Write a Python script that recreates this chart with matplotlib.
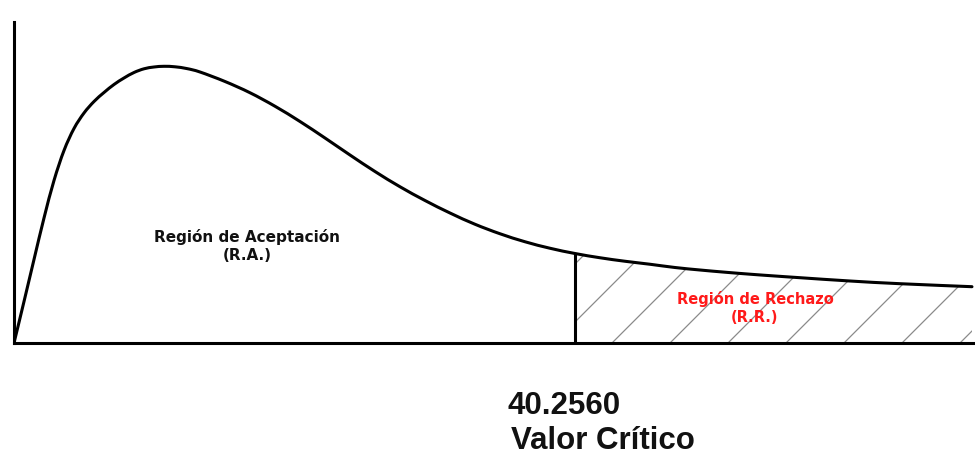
import numpy as np
import matplotlib
matplotlib.use("Agg")
import matplotlib.pyplot as plt
from matplotlib.collections import LineCollection
from matplotlib.path import Path
from matplotlib.patches import PathPatch

# ---- data ----
x_vals = [0.000, 0.718, 1.435, 2.153, 2.870, 3.588, 4.305, 5.023, 5.741, 6.458,
          7.176, 7.893, 8.611, 9.328, 10.046, 10.764, 11.553, 12.414, 13.347,
          15.141, 16.935, 18.729, 20.523, 22.316, 24.110, 25.904, 27.698, 29.492,
          31.286, 33.080, 34.874, 36.668, 38.462, 40.256, 42.050, 43.843, 45.637,
          47.431, 49.225, 51.019, 52.813, 54.607, 56.401, 59.989, 63.577, 68.743]
y_vals = [0.0000, 0.0083, 0.0167, 0.0250, 0.0325, 0.0385, 0.0429, 0.0460, 0.0483,
          0.0501, 0.0517, 0.0530, 0.0541, 0.05484, 0.05520, 0.05534, 0.05524,
          0.05488, 0.0542, 0.0523, 0.05005, 0.04735, 0.0443, 0.0410, 0.0376,
          0.0343, 0.03125, 0.0285, 0.0260, 0.02375, 0.02185, 0.02025, 0.01895,
          0.0179, 0.01705, 0.01635, 0.01575, 0.0151, 0.0146, 0.01416, 0.01376,
          0.0134, 0.01306, 0.0124, 0.01186, 0.01126]
critical_value = 40.2560
x_max = 68.96
y_max = 0.0642

label_accept = ["Región de Aceptación", "(R.A.)"]
label_reject = ["Región de Rechazo", "(R.R.)"]
label_value = "40.2560"
label_crit = "Valor Crítico"

x = np.array(x_vals)
y = np.array(y_vals)

W, H = 975, 455
fig = plt.figure(figsize=(W / 100, H / 100), dpi=100)
fig.patch.set_facecolor("white")
ax_l, ax_r, ax_b, ax_t = 14, 975, 343, 22
ax = fig.add_axes([ax_l / W, 1 - ax_b / H, (ax_r - ax_l) / W, (ax_b - ax_t) / H])
ax.set_xlim(0, x_max)
ax.set_ylim(0, y_max)
ax.set_xticks([])
ax.set_yticks([])
for s in ["top", "right"]:
    ax.spines[s].set_visible(False)
for s in ["left", "bottom"]:
    ax.spines[s].set_linewidth(2.2)
    ax.spines[s].set_color("black")
    ax.spines[s].set_capstyle("projecting")

# smooth path through the points (Catmull-Rom drawn as cubic Bezier segments)
pts = np.column_stack([x, y])
n = len(pts)
verts = [tuple(pts[0])]
codes = [Path.MOVETO]
for i in range(n - 1):
    p0 = pts[i - 1] if i > 0 else pts[i]
    p1 = pts[i]
    p2 = pts[i + 1]
    p3 = pts[i + 2] if i + 2 < n else pts[i + 1]
    c1 = p1 + (p2 - p0) / 6.0
    c2 = p2 - (p3 - p1) / 6.0
    verts += [tuple(c1), tuple(c2), tuple(p2)]
    codes += [Path.CURVE4] * 3
curve_path = Path(verts, codes)
ax.add_patch(PathPatch(curve_path, fill=False, edgecolor="black", lw=2.2,
                       capstyle="round", joinstyle="round", zorder=4))

# closed region under the curve (used to clip the hatch)
area_verts = verts + [(pts[-1, 0], 0.0), (pts[0, 0], 0.0), (pts[0, 0], 0.0)]
area_codes = codes + [Path.LINETO, Path.LINETO, Path.CLOSEPOLY]
area_path = Path(area_verts, area_codes)
clip_patch = PathPatch(area_path, facecolor="none", edgecolor="none")
ax.add_patch(clip_patch)

y_crit = np.interp(critical_value, x, y)

# hatch lines at 45 degrees in screen space, only right of the critical value
ax_w_px = ax_r - ax_l
ax_h_px = ax_b - ax_t
sx = x_max / ax_w_px
sy = y_max / ax_h_px
k = sy / sx  # data slope for a 45-degree screen line
spacing_px = 58
b = 612 - ax_l
while b * sx > critical_value - ax_h_px * sx:
    b -= spacing_px
segs = []
while b < ax_w_px:
    x0 = b * sx
    xs = max(x0, critical_value)
    ys = (xs - x0) * k
    segs.append([(xs, ys), (x0 + ax_h_px * sx, ax_h_px * sy)])
    b += spacing_px
lc = LineCollection(segs, colors="#8a8a8a", linewidths=0.9, zorder=2)
ax.add_collection(lc)
lc.set_clip_path(clip_patch)

# critical value line
ax.plot([critical_value, critical_value], [0, y_crit], color="black", lw=2.2, zorder=3)

def ftext(px, py, s, **kw):
    fig.text(px / W, 1 - py / H, s, **kw)

fam = ["DejaVu Sans"]
ftext(247, 237, label_accept[0], ha="center", va="center", fontsize=11,
      fontweight="bold", family=fam, color="#111111")
ftext(247, 256, label_accept[1], ha="center", va="center", fontsize=11,
      fontweight="bold", family=fam, color="#111111")
ftext(755, 299, label_reject[0], ha="center", va="center", fontsize=10.5,
      fontweight="bold", family=fam, color="#ff1a1a")
ftext(755, 317, label_reject[1], ha="center", va="center", fontsize=10.5,
      fontweight="bold", family=fam, color="#ff1a1a")

lib = ["Liberation Sans", "DejaVu Sans"]
ftext(507, 406, label_value, ha="left", va="center", fontsize=22.5,
      fontweight="bold", family=lib, color="#111111")
ftext(511, 441, label_crit, ha="left", va="center", fontsize=22.5,
      fontweight="bold", family=lib, color="#111111")

fig.savefig("out.png", dpi=100, facecolor="white")
